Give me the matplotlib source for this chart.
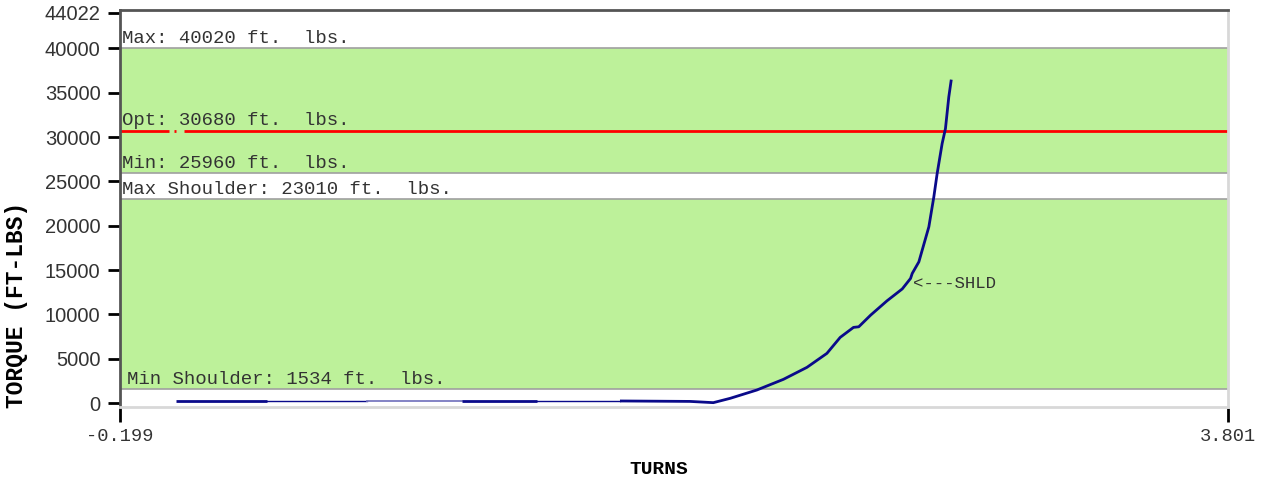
import numpy as np
import matplotlib.pyplot as plt

plt.rcParams['axes.unicode_minus'] = False

# torque limits (ft-lbs)
max_torque = 40020
opt_torque = 30680
min_torque = 25960
max_shoulder = 23010
min_shoulder = 1534
shoulder_turns = 2.655
shoulder_torque = 13500

# make-up curve
turns = [0.004, 0.333, 0.694, 1.034, 1.306, 1.606, 1.859, 1.895, 1.943, 2.004,
         2.100, 2.196, 2.281, 2.353, 2.401, 2.449, 2.468, 2.511, 2.570, 2.625,
         2.655, 2.661, 2.685, 2.697, 2.721, 2.739, 2.751, 2.769, 2.781, 2.793,
         2.802]
torque = [230, 230, 230, 230, 230, 230, 180, 120, 40, 530,
          1465, 2670, 4023, 5600, 7403, 8530, 8597, 9916, 11527, 12868,
          14051, 14615, 15922, 17240, 19865, 23246, 25883, 29263, 30953, 34514,
          36475]

# parts of the trace with dense (thick) samples
dense_ranges = [(0.004, 0.333), (1.034, 1.306), (1.606, 2.802)]
sparse_ranges = [(0.333, 0.694), (1.306, 1.606)]
light_ranges = [(0.694, 1.034)]

xmin, xmax = -0.199, 3.801
y_ticks = [0, 5000, 10000, 15000, 20000, 25000, 30000, 35000, 40000, 44022]

band_green = '#bdf19a'
edge_grey = '#a0a0a0'
trace_blue = '#0a0a8a'
mono = 'Liberation Mono'

fig = plt.figure(figsize=(12.66, 4.82), dpi=100)
ax = fig.add_axes([120/1266, 1-407/482, 1108/1266, 397/482])

# acceptance bands
ax.axhspan(min_shoulder, max_shoulder, color=band_green, lw=0, zorder=0)
ax.axhspan(min_torque, max_torque, color=band_green, lw=0, zorder=0)
for lim in [min_shoulder, max_shoulder, min_torque, max_torque]:
    ax.axhline(lim, color=edge_grey, lw=1.2, zorder=1)

# optimum line (with the small break near the left edge)
ax.hlines(opt_torque, xmin, -0.023, color='red', lw=2, zorder=2)
ax.hlines(opt_torque, -0.004, 0.002, color='red', lw=2, zorder=2)
ax.hlines(opt_torque, 0.031, xmax, color='red', lw=2, zorder=2)

t = np.array(turns)
q = np.array(torque)

def part(lo, hi):
    m = (t >= lo - 1e-9) & (t <= hi + 1e-9)
    return t[m], q[m]

for lo, hi in sparse_ranges:
    x, y = part(lo, hi)
    ax.plot(x, y, color=trace_blue, lw=1.0, zorder=3)
for lo, hi in light_ranges:
    x, y = part(lo, hi)
    ax.plot(x, y, color='#7a7ac0', lw=1.3, zorder=3)
for lo, hi in dense_ranges:
    x, y = part(lo, hi)
    ax.plot(x, y, color=trace_blue, lw=2.0, zorder=4, solid_capstyle='butt',
            solid_joinstyle='round')

# limit labels
lab_kw = dict(family=mono, fontsize=13.7, color='#333333', va='bottom', zorder=5)
ax.text(-0.192, max_torque + 150, f"Max: {max_torque} ft.  lbs.", **lab_kw)
ax.text(-0.192, opt_torque + 250, f"Opt: {opt_torque} ft.  lbs.", **lab_kw)
ax.text(-0.192, min_torque + 150, f"Min: {min_torque} ft.  lbs.", **lab_kw)
ax.text(-0.192, max_shoulder + 150, f"Max Shoulder: {max_shoulder} ft.  lbs.", **lab_kw)
ax.text(-0.175, min_shoulder + 150, f"Min Shoulder: {min_shoulder} ft.  lbs.", **lab_kw)
ax.text(shoulder_turns + 0.01, shoulder_torque, "<---SHLD", family=mono, fontsize=12.5,
        color='#333333', va='center', zorder=5)

ax.set_xlim(xmin, xmax)
ax.set_ylim(-450, 44330)

ax.set_yticks(y_ticks)
ax.set_yticklabels([str(v) for v in y_ticks], family='Liberation Sans', fontsize=14.5, color='#333333')
ax.tick_params(axis='y', length=9, width=2, color='black', pad=5)
ax.set_xticks([xmin, xmax])
ax.set_xticklabels(["-0.199", "3.801"], family=mono, fontsize=13.5, color='#333333')
ax.tick_params(axis='x', length=11, width=2, color='black', pad=4)

for s in ['left', 'top']:
    ax.spines[s].set_color('#555555')
    ax.spines[s].set_linewidth(2)
for s in ['right', 'bottom']:
    ax.spines[s].set_color('#d8d8d8')
    ax.spines[s].set_linewidth(2)

fig.text(659/1266, 1-470/482, "TURNS", family=mono, fontsize=14, fontweight='bold',
         ha='center', va='center')
fig.text(17/1266, 1-305/482, "TORQUE (FT-LBS)", family=mono, fontsize=16.5, fontweight='bold',
         rotation=90, ha='center', va='center')

fig.savefig('out.png', dpi=100)
